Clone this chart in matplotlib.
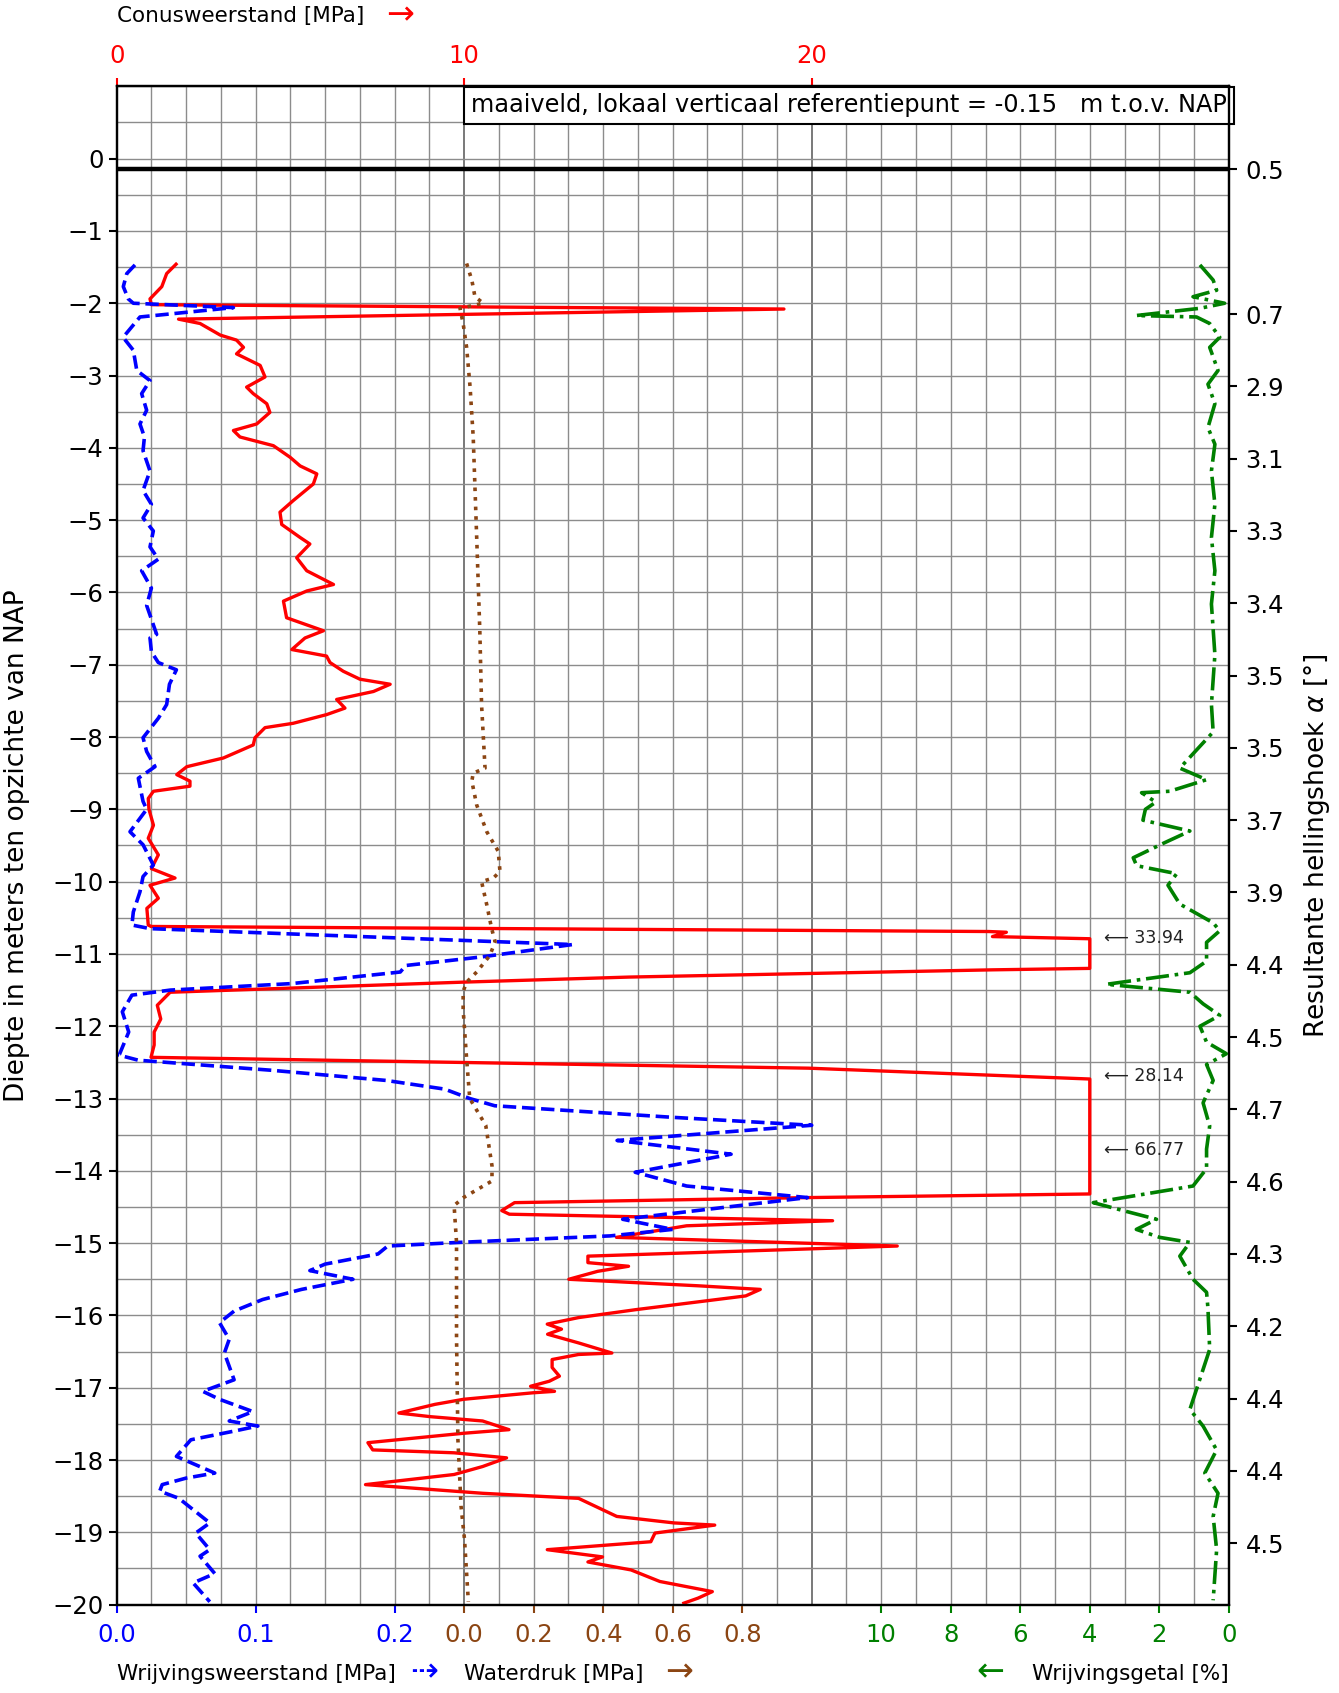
import matplotlib
matplotlib.use('Agg')
import matplotlib.pyplot as plt
from matplotlib.ticker import MultipleLocator, FixedLocator
import numpy as np

plt.rcParams['axes.linewidth'] = 1.5

# conusweerstand qc [MPa] tegen diepte [m t.o.v. NAP]
qc_depth = [-1.46, -1.59, -1.77, -1.94, -2.02, -2.08, -2.22, -2.28, -2.44, -2.51, -2.61, -2.70,
            -2.86, -3.02, -3.16, -3.25, -3.39, -3.51, -3.67, -3.76, -3.85, -3.97, -4.13, -4.25,
            -4.36, -4.50, -4.73, -4.89, -5.06, -5.24, -5.33, -5.52, -5.70, -5.89, -5.98, -6.12,
            -6.35, -6.53, -6.63, -6.79, -6.88, -6.97, -7.09, -7.20, -7.27, -7.37, -7.48, -7.60,
            -7.69, -7.81, -7.87, -8.01, -8.11, -8.29, -8.41, -8.52, -8.61, -8.68, -8.75, -8.85,
            -9.00, -9.22, -9.40, -9.63, -9.82, -9.95, -10.05, -10.23, -10.37, -10.60,
            -10.62, -10.69, -10.70, -10.76, -10.79, -11.20, -11.22, -11.32, -11.39, -11.53,
            -11.71, -11.90, -12.08, -12.26, -12.43, -12.58, -12.73, -13.71, -14.32, -14.37,
            -14.44, -14.55, -14.60, -14.69, -14.76, -14.92, -15.04, -15.18, -15.27, -15.32,
            -15.39, -15.50, -15.59, -15.64, -15.73, -15.92, -16.03, -16.12, -16.19, -16.26,
            -16.38, -16.52, -16.54, -16.61, -16.72, -16.84, -16.91, -16.98, -17.05, -17.07,
            -17.16, -17.23, -17.35, -17.40, -17.46, -17.58, -17.63, -17.76, -17.86, -17.90,
            -17.97, -18.09, -18.20, -18.34, -18.46, -18.53, -18.78, -18.87, -18.90, -19.01,
            -19.13, -19.24, -19.34, -19.41, -19.52, -19.68, -19.82, -19.91, -19.98]
qc_value = [1.71, 1.44, 1.30, 0.96, 1.00, 19.2, 1.78, 2.40, 2.98, 3.45, 3.65, 3.45,
            4.13, 4.27, 3.74, 3.93, 4.32, 4.41, 4.03, 3.36, 3.55, 4.51, 4.99, 5.28,
            5.76, 5.66, 5.08, 4.70, 4.75, 5.28, 5.56, 5.18, 5.47, 6.24, 5.47, 4.80,
            4.89, 5.95, 5.42, 5.04, 6.04, 6.14, 6.52, 7.00, 7.87, 7.39, 6.33, 6.57,
            6.04, 5.08, 4.27, 3.98, 3.93, 3.07, 2.02, 1.73, 2.11, 2.11, 1.06, 0.91,
            0.93, 1.06, 0.91, 1.20, 1.00, 1.68, 0.96, 1.20, 0.87, 0.91,
            0.99, 25.1, 25.6, 25.2, 33.94, 28.0, 25.2, 14.75, 9.98, 1.54,
            1.17, 1.27, 1.08, 1.08, 0.99, 19.9, 28.14, 66.77, 28.0, 19.9,
            11.45, 11.08, 11.30, 20.6, 16.4, 14.38, 22.46, 13.56, 13.56, 14.73,
            13.84, 13.01, 16.73, 18.52, 18.10, 14.94, 13.29, 12.39, 12.80, 12.40,
            13.29, 14.25, 13.29, 12.53, 12.53, 12.74, 12.45, 11.91, 12.60, 11.98,
            9.98, 9.16, 8.12, 9.02, 10.53, 11.29, 9.98, 7.23, 7.37, 9.71,
            11.22, 10.53, 9.71, 7.16, 10.53, 13.29, 14.39, 16.04, 17.21, 15.49,
            15.37, 12.39, 13.98, 13.56, 14.80, 15.63, 17.14, 16.73, 16.32]
qc_max_plot = 28.0

# waarden boven de plotgrens
ann_depth = [-10.78, -12.69, -13.71]
ann_value = [33.94, 28.14, 66.77]

# wrijvingsweerstand fs [MPa]
fs_depth = [-1.47, -1.59, -1.77, -1.94, -2.00, -2.06, -2.19, -2.44, -2.48, -2.65, -2.93, -3.07,
            -3.25, -3.48, -3.67, -3.85, -4.04, -4.32, -4.59, -4.78, -4.97, -5.15, -5.37, -5.54,
            -5.70, -5.94, -6.18, -6.58, -6.63, -6.82, -6.97, -7.07, -7.27, -7.55, -7.74, -8.01,
            -8.20, -8.41, -8.57, -8.89, -9.00, -9.31, -9.49, -9.77, -9.93, -10.14, -10.42, -10.60,
            -10.65, -10.87, -11.04, -11.16, -11.25, -11.41, -11.50, -11.57, -11.80, -12.08, -12.40,
            -12.47, -12.61, -12.75, -12.87, -13.00, -13.10, -13.26, -13.37, -13.58, -13.77, -14.02,
            -14.21, -14.37, -14.67, -14.81, -14.90, -14.99, -15.04, -15.15, -15.29, -15.38, -15.50,
            -15.64, -15.78, -15.94, -16.10, -16.33, -16.52, -16.89, -17.05, -17.16, -17.33, -17.46,
            -17.53, -17.60, -17.72, -17.95, -18.18, -18.25, -18.34, -18.43, -18.53, -18.87, -19.01,
            -19.24, -19.33, -19.57, -19.70, -19.96]
fs_value = [0.0132, 0.0073, 0.0048, 0.0084, 0.012, 0.084, 0.0168, 0.006, 0.005, 0.012, 0.0145, 0.024,
            0.018, 0.0216, 0.0168, 0.020, 0.019, 0.024, 0.019, 0.025, 0.019, 0.0264, 0.024, 0.030,
            0.018, 0.025, 0.0216, 0.0288, 0.024, 0.025, 0.030, 0.043, 0.038, 0.036, 0.030, 0.019,
            0.0216, 0.0276, 0.0156, 0.019, 0.0216, 0.0096, 0.019, 0.0264, 0.019, 0.0168, 0.012, 0.011,
            0.024, 0.328, 0.263, 0.208, 0.204, 0.126, 0.0386, 0.011, 0.0041, 0.0087, 0.0018,
            0.0156, 0.112, 0.194, 0.236, 0.254, 0.272, 0.40, 0.50, 0.36, 0.442, 0.373,
            0.41, 0.497, 0.364, 0.40, 0.355, 0.246, 0.195, 0.188, 0.150, 0.139, 0.170,
            0.133, 0.105, 0.0845, 0.074, 0.081, 0.0775, 0.0845, 0.062, 0.074, 0.098, 0.081,
            0.1016, 0.0845, 0.0534, 0.043, 0.0706, 0.050, 0.0328, 0.031, 0.0448, 0.067, 0.0569,
            0.067, 0.060, 0.0706, 0.055, 0.067]

# waterdruk u [MPa]
u_depth = [-1.45, -1.68, -1.91, -2.00, -2.07, -2.28, -2.61, -3.16, -3.85, -5.24, -6.53, -7.55,
           -8.43, -8.50, -8.61, -8.94, -9.31, -9.58, -9.86, -9.95, -10.00, -10.32, -10.65, -10.83,
           -11.02, -11.25, -11.39, -11.52, -11.77, -12.45, -13.00, -13.37, -13.93, -14.14, -14.37,
           -14.48, -14.99, -16.30, -17.72, -18.64, -19.10, -19.96]
u_value = [0.007, 0.022, 0.031, 0.055, -0.012, -0.003, 0.007, 0.017, 0.026, 0.036, 0.045, 0.05,
           0.06, 0.026, 0.022, 0.036, 0.065, 0.098, 0.103, 0.084, 0.05, 0.065, 0.079, 0.089,
           0.074, 0.036, 0.007, -0.003, -0.003, 0.007, 0.016, 0.062, 0.08, 0.08, -0.002,
           -0.029, -0.022, -0.022, -0.018, -0.009, 0.001, 0.012]

# wrijvingsgetal Rf [%]
rf_depth = [-1.47, -1.68, -1.82, -1.91, -2.00, -2.07, -2.17, -2.19, -2.28, -2.47, -2.61, -2.93,
            -3.12, -3.39, -3.72, -3.95, -4.32, -4.78, -5.24, -5.70, -6.16, -6.86, -7.55, -7.93,
            -8.43, -8.59, -8.75, -8.77, -8.90, -9.00, -9.15, -9.30, -9.46, -9.67, -9.78, -9.89,
            -10.05, -10.31, -10.57, -10.68, -10.84, -11.10, -11.26, -11.42, -11.53, -11.69,
            -11.85, -12.00, -12.22, -12.38, -12.53, -12.75, -13.06, -13.38, -13.70, -13.97,
            -14.21, -14.44, -14.55, -14.67, -14.81, -14.92, -14.99, -15.18, -15.50, -15.68,
            -15.90, -16.47, -17.30, -17.53, -17.86, -18.18, -18.46, -18.78, -19.24, -19.94]
rf_value = [0.83, 0.45, 0.35, 1.03, 0.12, 0.83, 2.66, 0.93, 0.55, 0.26, 0.55, 0.31,
            0.60, 0.40, 0.60, 0.40, 0.50, 0.40, 0.50, 0.40, 0.50, 0.40, 0.50, 0.45,
            1.41, 0.64, 1.70, 2.51, 2.10, 2.40, 2.47, 1.12, 1.84, 2.75, 2.65, 1.50,
            1.75, 1.41, 0.45, 0.26, 0.64, 0.64, 1.12, 3.52, 1.12, 0.74,
            0.26, 0.83, 0.64, 0.07, 0.64, 0.45, 0.74, 0.55, 0.64, 0.64,
            1.03, 3.90, 3.04, 2.08, 2.66, 1.99, 1.12, 1.41, 1.03, 0.64,
            0.60, 0.55, 1.12, 0.74, 0.35, 0.69, 0.31, 0.45, 0.35, 0.45]

# hellingshoek (rechter as)
alpha_depth = [-0.15] + [-(k + 0.15) for k in range(2, 20)]
alpha_labels = ['0.5', '0.7', '2.9', '3.1', '3.3', '3.4', '3.5', '3.5', '3.7', '3.9',
                '4.4', '4.5', '4.7', '4.6', '4.3', '4.2', '4.4', '4.4', '4.5']

maaiveld = -0.15

brown = '#8B4513'
fs_tick = 17.5
fs_lab = 15.5

fig = plt.figure(figsize=(13.39, 16.93), dpi=100)
ax = fig.add_axes([0.0871, 0.0522, 0.8306, 0.8968])

# conusweerstand (hoofdas)
ax.set_xlim(0, 32)
ax.set_ylim(-20, 1)
ax.plot(np.minimum(qc_value, qc_max_plot), qc_depth, color='red', lw=2.4, zorder=3,
        solid_joinstyle='round')
for d, v in zip(ann_depth, ann_value):
    ax.text(28.4, d, '\u27f5 %.2f' % v, fontsize=12.5, va='center', ha='left', color='#222222')

ax.axhline(maaiveld, color='black', lw=3.2, zorder=4)
ax.annotate('maaiveld, lokaal verticaal referentiepunt = -0.15   m t.o.v. NAP',
            xy=(10, 1.0), xytext=(5, -5), textcoords='offset points',
            ha='left', va='top', fontsize=17.3, zorder=6,
            bbox=dict(boxstyle='square,pad=0.28', fc='white', ec='black', lw=1.5))

ax.xaxis.set_major_locator(FixedLocator([0, 10, 20]))
ax.xaxis.set_minor_locator(MultipleLocator(1))
ax.yaxis.set_major_locator(FixedLocator(list(range(-20, 1))))
ax.yaxis.set_minor_locator(MultipleLocator(0.5))
ax.grid(True, which='minor', color='#8c8c8c', lw=1.0)
ax.grid(True, which='major', axis='y', color='#8c8c8c', lw=1.0)
ax.grid(True, which='major', axis='x', color='#6e6e6e', lw=1.3)
ax.tick_params(which='minor', length=0)
ax.tick_params(axis='y', which='major', length=6, width=1.5, labelsize=fs_tick)
ax.set_ylabel('Diepte in meters ten opzichte van NAP', fontsize=19)
ax.yaxis.set_label_coords(-0.078, 0.5)

# hellingshoek rechts
ax_r = ax.twinx()
ax_r.set_ylim(-20, 1)
ax_r.set_yticks(alpha_depth)
ax_r.set_yticklabels(alpha_labels)
ax_r.tick_params(axis='y', length=6, width=1.5, labelsize=fs_tick, pad=6)
ax_r.set_ylabel('Resultante hellingshoek $\\alpha$ [°]', fontsize=19)
ax_r.yaxis.set_label_coords(1.066, 0.5)


def bottom_axis(xlim, ticks, labels, color):
    a = ax.twiny()
    a.set_xlim(*xlim)
    a.xaxis.set_ticks_position('bottom')
    a.set_xticks(ticks)
    a.set_xticklabels(labels)
    a.tick_params(axis='x', colors=color, length=6, width=1.5, pad=7, labelsize=fs_tick,
                  labelbottom=True, labeltop=False)
    a.set_ylim(-20, 1)
    return a


ax_fs = bottom_axis((0, 0.8), [0, 0.1, 0.2], ['0.0', '0.1', '0.2'], 'blue')
ax_fs.plot(fs_value, fs_depth, color='blue', ls='--', lw=2.6)

ax_u = bottom_axis((-1.0, 2.2), [0, 0.2, 0.4, 0.6, 0.8], ['0.0', '0.2', '0.4', '0.6', '0.8'], brown)
ax_u.plot(u_value, u_depth, color=brown, ls=':', lw=2.6)

ax_rf = bottom_axis((32, 0), [10, 8, 6, 4, 2, 0], ['10', '8', '6', '4', '2', '0'], 'green')
ax_rf.plot(rf_value, rf_depth, color='green', ls='-.', lw=2.6)

# twiny zet de hoofdas terug naar onder; conusweerstand hoort boven
ax.xaxis.set_ticks_position('top')
ax.tick_params(axis='x', which='major', colors='red', length=6, width=1.5, pad=7,
               labelsize=fs_tick, top=True, labeltop=True, bottom=False, labelbottom=False)
ax.tick_params(axis='x', which='minor', top=False, bottom=False)

# aslabels boven en onder
fig.text(0.0871, 0.9905, 'Conusweerstand [MPa]', fontsize=fs_lab, va='center')
fig.text(0.288, 0.9915, '\u2192', fontsize=24, va='center', color='red')
fig.text(0.0871, 0.0114, 'Wrijvingsweerstand [MPa]', fontsize=fs_lab, va='center')
fig.text(0.306, 0.0124, '\u21e2', fontsize=24, va='center', color='blue')
fig.text(0.3467, 0.0114, 'Waterdruk [MPa]', fontsize=fs_lab, va='center')
fig.text(0.497, 0.0124, '\u2192', fontsize=24, va='center', color=brown)
fig.text(0.729, 0.0124, '\u2190', fontsize=24, va='center', color='green')
fig.text(0.9177, 0.0114, 'Wrijvingsgetal [%]', fontsize=fs_lab, va='center', ha='right')

plt.savefig('out.png', dpi=100)
